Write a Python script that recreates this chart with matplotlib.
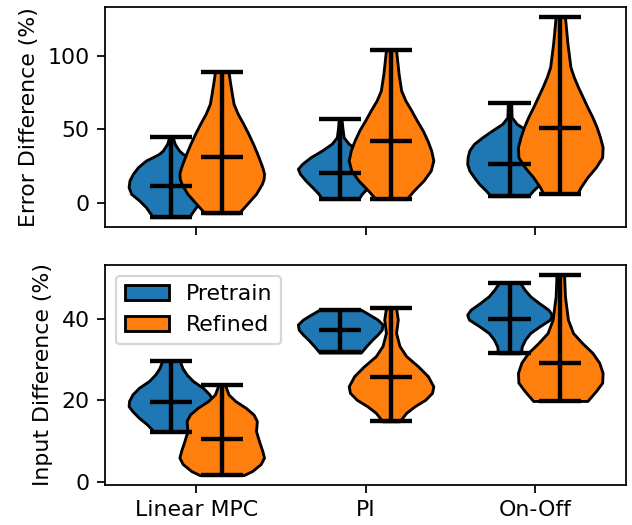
import matplotlib
matplotlib.use("Agg")
import matplotlib.pyplot as plt
from matplotlib.patches import Patch

labels = ['Linear MPC', 'PI', 'On-Off']

# ---- top panel: Error Difference (%) ----
# pretrain (blue): min / max / mean, then density profile (y, relative width)
err_pre_min = [-10.0, 2.3, 4.3]
err_pre_max = [44.7, 56.9, 67.6]
err_pre_mean = [10.9, 20.2, 26.3]
err_pre_y = [
    [-10.0, -7.7, -3.2, 1.4, 5.9, 10.4, 15.0, 19.5, 24.0, 28.6, 31.0, 33.1, 35.4, 39.9, 44.7],
    [2.3, 5.9, 10.4, 15.0, 19.5, 22.9, 26.3, 30.8, 35.4, 40.0, 44.4, 51.2, 56.9],
    [4.3, 8.2, 12.7, 17.2, 21.8, 26.3, 30.8, 35.4, 39.9, 44.4, 49.0, 53.5, 58.0, 67.6],
]
err_pre_w = [
    [0.44, 0.48, 0.59, 0.75, 0.94, 1.0, 0.98, 0.90, 0.78, 0.59, 0.42, 0.28, 0.19, 0.09, 0.04],
    [0.43, 0.51, 0.66, 0.82, 0.95, 1.0, 0.90, 0.70, 0.43, 0.20, 0.08, 0.05, 0.03],
    [0.44, 0.56, 0.72, 0.84, 0.95, 1.0, 0.99, 0.95, 0.84, 0.64, 0.41, 0.17, 0.05, 0.04],
]
# refined (orange)
err_ref_min = [-7.3, 2.3, 5.9]
err_ref_max = [88.9, 103.6, 126.3]
err_ref_mean = [31.1, 41.7, 50.6]
err_ref_y = [
    [-7.3, -0.9, 5.9, 12.7, 16.0, 19.5, 23.0, 26.3, 33.1, 39.9, 46.7, 53.5, 60.3, 67.1, 73.9, 81.0, 88.9],
    [2.3, 8.2, 15.0, 21.8, 28.6, 35.4, 42.2, 49.0, 55.8, 62.6, 69.4, 76.2, 87.5, 103.6],
    [5.9, 10.4, 17.2, 24.0, 30.8, 37.6, 44.4, 51.2, 58.0, 64.9, 71.7, 78.5, 85.3, 92.1, 107.9, 126.3],
]
err_ref_w = [
    [0.40, 0.60, 0.81, 0.95, 0.99, 1.0, 0.97, 0.93, 0.84, 0.74, 0.63, 0.51, 0.38, 0.28, 0.24, 0.20, 0.16],
    [0.36, 0.54, 0.77, 0.94, 1.0, 0.95, 0.86, 0.75, 0.61, 0.48, 0.34, 0.24, 0.18, 0.12],
    [0.40, 0.48, 0.64, 0.84, 0.99, 1.0, 0.94, 0.86, 0.76, 0.64, 0.53, 0.42, 0.32, 0.24, 0.17, 0.11],
]

# ---- bottom panel: Input Difference (%) ----
inp_pre_min = [12.3, 31.7, 31.5]
inp_pre_max = [29.6, 42.2, 48.8]
inp_pre_mean = [19.6, 37.2, 40.0]
inp_pre_y = [
    [12.3, 12.8, 14.0, 15.7, 17.3, 18.5, 19.8, 21.4, 23.0, 24.7, 26.3, 27.9, 29.6],
    [31.7, 33.2, 34.9, 36.1, 37.3, 38.6, 39.8, 41.0, 42.2],
    [31.5, 33.2, 34.9, 36.5, 38.2, 39.8, 41.0, 42.2, 43.9, 45.5, 47.1, 48.8],
]
inp_pre_w = [
    [0.43, 0.45, 0.56, 0.76, 0.91, 1.0, 0.99, 0.91, 0.76, 0.52, 0.37, 0.27, 0.21],
    [0.49, 0.61, 0.76, 0.88, 0.98, 1.0, 0.88, 0.69, 0.49],
    [0.27, 0.29, 0.37, 0.49, 0.72, 0.96, 1.0, 0.92, 0.69, 0.49, 0.36, 0.25],
]
inp_ref_min = [1.6, 14.8, 19.8]
inp_ref_max = [23.7, 42.6, 50.8]
inp_ref_mean = [10.4, 25.6, 29.1]
inp_ref_y = [
    [1.6, 2.6, 4.3, 5.9, 7.5, 10.0, 12.4, 14.9, 16.5, 18.1, 19.8, 21.4, 23.7],
    [14.8, 16.9, 18.5, 20.1, 21.8, 23.4, 25.9, 28.3, 30.8, 33.3, 36.5, 39.8, 42.6],
    [19.8, 22.2, 24.3, 26.7, 29.2, 31.6, 34.0, 36.5, 39.8, 45.5, 50.8],
]
inp_ref_w = [
    [0.52, 0.72, 0.92, 1.0, 0.96, 0.88, 0.81, 0.83, 0.75, 0.57, 0.32, 0.16, 0.08],
    [0.20, 0.36, 0.56, 0.81, 0.97, 1.0, 0.87, 0.64, 0.36, 0.20, 0.12, 0.16, 0.12],
    [0.64, 0.84, 0.99, 1.0, 0.92, 0.76, 0.52, 0.30, 0.18, 0.11, 0.09],
]

x = [1, 2, 3]
offset = 0.15


def make_stats(ys, ws, mins, maxs, means):
    stats = []
    for i in range(len(ys)):
        stats.append({'coords': ys[i], 'vals': ws[i], 'mean': means[i],
                      'median': means[i], 'min': mins[i], 'max': maxs[i]})
    return stats


def draw(ax, stats, pos, color):
    parts = ax.violin(stats, positions=pos, widths=0.5, showmeans=True,
                      showextrema=True, showmedians=False)
    for body in parts['bodies']:
        body.set_facecolor(color)
        body.set_edgecolor('black')
        body.set_linewidth(1.3)
        body.set_alpha(1)
        body.set_joinstyle('round')
    for key in ['cmeans', 'cmins', 'cmaxes', 'cbars']:
        parts[key].set_color('black')
        parts[key].set_linewidth(2.0)


fig, (ax1, ax2) = plt.subplots(2, 1, sharex=True, figsize=(4, 3.3228), dpi=158)
fig.subplots_adjust(left=0.166, right=0.991, top=0.987, bottom=0.076, hspace=0.17)

pos_pre = [p - offset for p in x]
pos_ref = [p + offset for p in x]

draw(ax1, make_stats(err_pre_y, err_pre_w, err_pre_min, err_pre_max, err_pre_mean), pos_pre, 'tab:blue')
draw(ax1, make_stats(err_ref_y, err_ref_w, err_ref_min, err_ref_max, err_ref_mean), pos_ref, 'tab:orange')
draw(ax2, make_stats(inp_pre_y, inp_pre_w, inp_pre_min, inp_pre_max, inp_pre_mean), pos_pre, 'tab:blue')
draw(ax2, make_stats(inp_ref_y, inp_ref_w, inp_ref_min, inp_ref_max, inp_ref_mean), pos_ref, 'tab:orange')

ax1.set_ylabel('Error Difference (%)')
ax2.set_ylabel('Input Difference (%)')
ax2.set_xticks(x)
ax2.set_xticklabels(labels)

handles = [Patch(facecolor='tab:blue', edgecolor='black', linewidth=1.3, label='Pretrain'),
           Patch(facecolor='tab:orange', edgecolor='black', linewidth=1.3, label='Refined')]
ax2.legend(handles=handles, loc='upper left')

fig.savefig('out.png', dpi=158)
